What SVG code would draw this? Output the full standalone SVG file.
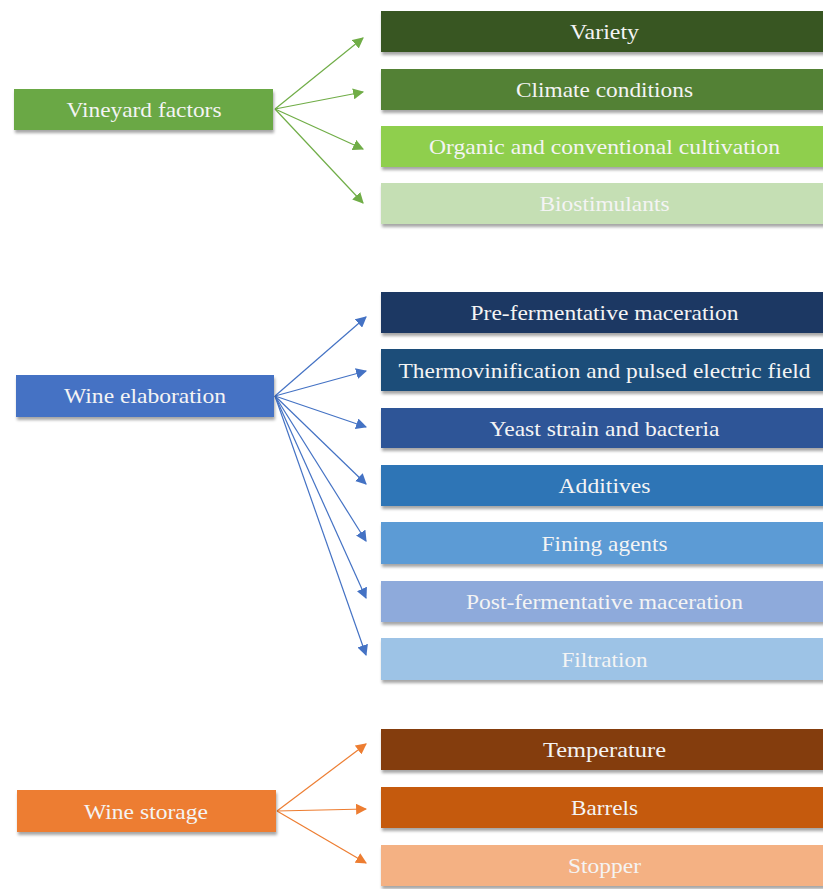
<svg xmlns="http://www.w3.org/2000/svg" width="823" height="889" viewBox="0 0 823 889">
<style>
  text { font-family: "Liberation Serif", "Times New Roman", serif; font-size: 21px; fill: #f4f4f4; text-anchor: middle; dominant-baseline: central; }
  .box { filter: url(#sh); }
  .cg { stroke: #70AD47; stroke-width: 1.2; fill: none; marker-end: url(#ag); }
  .cb { stroke: #4472C4; stroke-width: 1.2; fill: none; marker-end: url(#ab); }
  .co { stroke: #ED7D31; stroke-width: 1.2; fill: none; marker-end: url(#ao); }
</style>
<defs>
  <filter id="sh" x="-5%" y="-20%" width="110%" height="150%">
    <feDropShadow dx="1" dy="3" stdDeviation="1.5" flood-color="#000" flood-opacity="0.35"/>
  </filter>
  <marker id="ag" viewBox="0 0 10 10" refX="9" refY="5" markerWidth="11" markerHeight="11" markerUnits="userSpaceOnUse" orient="auto"><path d="M0,0 L10,5 L0,10 z" fill="#70AD47"/></marker>
  <marker id="ab" viewBox="0 0 10 10" refX="9" refY="5" markerWidth="11" markerHeight="11" markerUnits="userSpaceOnUse" orient="auto"><path d="M0,0 L10,5 L0,10 z" fill="#4472C4"/></marker>
  <marker id="ao" viewBox="0 0 10 10" refX="9" refY="5" markerWidth="11" markerHeight="11" markerUnits="userSpaceOnUse" orient="auto"><path d="M0,0 L10,5 L0,10 z" fill="#ED7D31"/></marker>
</defs>
<rect width="823" height="889" fill="#ffffff"/>

<g id="connectors">
  <line class="cg" x1="275" y1="109" x2="363" y2="38"/>
  <line class="cg" x1="275" y1="109" x2="363" y2="92"/>
  <line class="cg" x1="275" y1="109" x2="363" y2="149"/>
  <line class="cg" x1="275" y1="109" x2="363" y2="203"/>

  <line class="cb" x1="275" y1="396" x2="366" y2="317"/>
  <line class="cb" x1="275" y1="396" x2="366" y2="371"/>
  <line class="cb" x1="275" y1="396" x2="366" y2="427"/>
  <line class="cb" x1="275" y1="396" x2="366" y2="484"/>
  <line class="cb" x1="275" y1="396" x2="366" y2="541"/>
  <line class="cb" x1="275" y1="396" x2="366" y2="598"/>
  <line class="cb" x1="275" y1="396" x2="366" y2="655"/>

  <line class="co" x1="277" y1="811" x2="366" y2="744"/>
  <line class="co" x1="277" y1="811" x2="366" y2="809"/>
  <line class="co" x1="277" y1="811" x2="366" y2="863"/>
</g>

<g id="vineyard-factors"><rect class="box" x="14" y="89" width="259" height="41" fill="#6BA845"/><text x="144" y="110" textLength="155" lengthAdjust="spacingAndGlyphs">Vineyard factors</text></g>
<g id="variety"><rect class="box" x="381" y="11" width="447" height="41" fill="#385723"/><text x="604.5" y="32" textLength="69" lengthAdjust="spacingAndGlyphs">Variety</text></g>
<g id="climate"><rect class="box" x="381" y="69" width="447" height="41" fill="#538135"/><text x="604.5" y="90" textLength="177" lengthAdjust="spacingAndGlyphs">Climate conditions</text></g>
<g id="organic"><rect class="box" x="381" y="126" width="447" height="41" fill="#8FCF4E"/><text x="604.5" y="147" textLength="351" lengthAdjust="spacingAndGlyphs">Organic and conventional cultivation</text></g>
<g id="biostimulants"><rect class="box" x="381" y="183" width="447" height="41" fill="#C5DFB4"/><text x="604.5" y="204" textLength="130" lengthAdjust="spacingAndGlyphs">Biostimulants</text></g>

<g id="wine-elaboration"><rect class="box" x="16" y="375" width="258" height="42" fill="#4472C4"/><text x="145" y="396" textLength="162" lengthAdjust="spacingAndGlyphs">Wine elaboration</text></g>
<g id="pre-fermentative"><rect class="box" x="381" y="292" width="447" height="41" fill="#1F3864"/><text x="604.5" y="313" textLength="268" lengthAdjust="spacingAndGlyphs">Pre-fermentative maceration</text></g>
<g id="thermovinification"><rect class="box" x="381" y="349" width="447" height="42" fill="#1F4E79"/><text x="604.5" y="371" textLength="412" lengthAdjust="spacingAndGlyphs">Thermovinification and pulsed electric field</text></g>
<g id="yeast"><rect class="box" x="381" y="408" width="447" height="40" fill="#2F5597"/><text x="604.5" y="429" textLength="230" lengthAdjust="spacingAndGlyphs">Yeast strain and bacteria</text></g>
<g id="additives"><rect class="box" x="381" y="465" width="447" height="41" fill="#2E75B6"/><text x="604.5" y="486" textLength="92" lengthAdjust="spacingAndGlyphs">Additives</text></g>
<g id="fining"><rect class="box" x="381" y="522" width="447" height="42" fill="#5B9BD5"/><text x="604.5" y="544" textLength="126" lengthAdjust="spacingAndGlyphs">Fining agents</text></g>
<g id="post-fermentative"><rect class="box" x="381" y="581" width="447" height="41" fill="#8EAADB"/><text x="604.5" y="602" textLength="277" lengthAdjust="spacingAndGlyphs">Post-fermentative maceration</text></g>
<g id="filtration"><rect class="box" x="381" y="638" width="447" height="42" fill="#9DC3E6"/><text x="604.5" y="660" textLength="86" lengthAdjust="spacingAndGlyphs">Filtration</text></g>

<g id="wine-storage"><rect class="box" x="17" y="790" width="259" height="42" fill="#ED7D31"/><text x="146" y="812" textLength="124" lengthAdjust="spacingAndGlyphs">Wine storage</text></g>
<g id="temperature"><rect class="box" x="381" y="729" width="447" height="41" fill="#843C0C"/><text x="604.5" y="750" textLength="123" lengthAdjust="spacingAndGlyphs">Temperature</text></g>
<g id="barrels"><rect class="box" x="381" y="787" width="447" height="41" fill="#C55A11"/><text x="604.5" y="808" textLength="67" lengthAdjust="spacingAndGlyphs">Barrels</text></g>
<g id="stopper"><rect class="box" x="381" y="845" width="447" height="41" fill="#F4B183"/><text x="604.5" y="866" textLength="73" lengthAdjust="spacingAndGlyphs">Stopper</text></g>
</svg>
